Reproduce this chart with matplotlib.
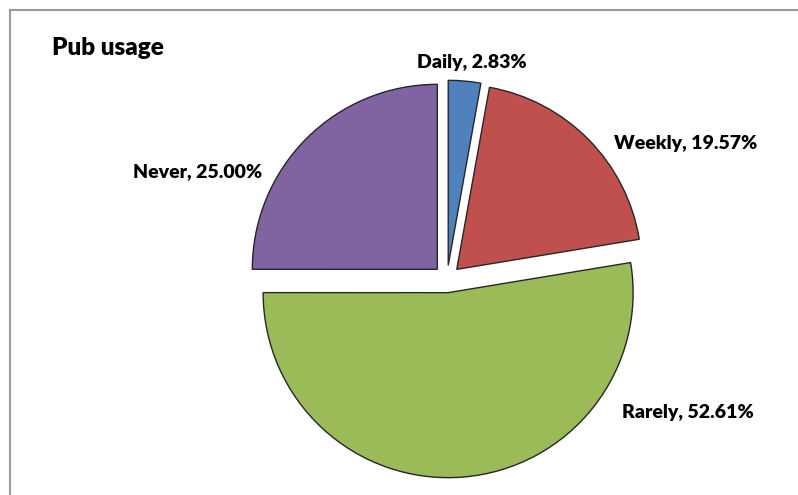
import matplotlib
matplotlib.use('Agg')
import matplotlib.pyplot as plt
from matplotlib.lines import Line2D

categories = ['Daily', 'Weekly', 'Rarely', 'Never']
shares = [2.83, 19.57, 52.61, 25.00]
colors = ['#4F81BD', '#C0504D', '#9BBB59', '#8064A2']
# label anchor positions, in units of the pie radius from its centre
label_pos = [(0.135, 1.17), (1.29, 0.73), (1.30, -0.72), (-1.35, 0.58)]

plt.rcParams['font.family'] = ['Lato', 'DejaVu Sans']

fig = plt.figure(figsize=(7.98, 4.95), dpi=100)
ax = fig.add_axes([0, 0, 1, 1])

cx, cy, r = 447, 495 - 279, 185
ax.pie(shares, colors=colors, startangle=90, counterclock=False,
       center=(cx, cy), radius=r, explode=[13.7] * len(shares),
       wedgeprops=dict(edgecolor='#262626', linewidth=1.0), frame=True)
ax.set_xlim(0, 798)
ax.set_ylim(0, 495)
ax.set_aspect('equal')
ax.axis('off')

for name, v, (lx, ly) in zip(categories, shares, label_pos):
    ax.text(cx + lx * r, cy + ly * r, f'{name}, {v:.2f}%', ha='center', va='center',
            fontsize=14, fontweight='heavy', color='black')

fig.text(52 / 798, 1 - 48 / 495, 'Pub usage', ha='left', va='center',
         fontsize=17.5, fontweight='heavy')

# chart area border (left and top visible)
fig.add_artist(Line2D([9.5 / 798, 9.5 / 798], [0, 1 - 10 / 495], color='#9a9a9a', lw=1.5,
                      transform=fig.transFigure))
fig.add_artist(Line2D([9.5 / 798, 1], [1 - 10 / 495, 1 - 10 / 495], color='#9a9a9a', lw=1.5,
                      transform=fig.transFigure))

fig.savefig('out.png', dpi=100)
